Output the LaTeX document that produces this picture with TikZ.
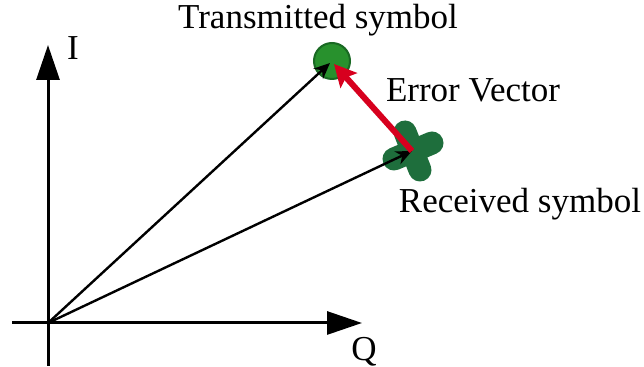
\documentclass[tikz,border=0pt]{standalone}
\usepackage{fontspec}
\setmainfont{Liberation Serif}
\usetikzlibrary{arrows.meta}

\definecolor{txgreen}{RGB}{40,145,45}
\definecolor{txedge}{RGB}{25,105,35}
\definecolor{rxgreen}{RGB}{30,110,60}
\definecolor{errred}{RGB}{215,0,30}

\tikzset{
  axis/.style={line width=1.5pt,-{Triangle[length=17.5pt,width=11.5pt]}},
  vec/.style={line width=1.2pt,-{Stealth[length=8pt,width=7pt]}},
  errvec/.style={errred,line width=3pt,-{Stealth[length=11pt,width=11pt,inset=2pt]}},
  lbl/.style={inner sep=0pt,font=\fontsize{17.5}{20}\selectfont},
  lobe/.style={rxgreen,line width=11.5pt,line cap=round}
}

\begin{document}
\begin{tikzpicture}[x=0.5pt,y=0.5pt,yscale=-1,xscale=1]
\useasboundingbox (0,0) rectangle (644,367);

% axes
\coordinate (O) at (48,323);
\coordinate (Ibot) at (48,366);
\coordinate (Itop) at (48,45);
\coordinate (Qleft) at (12,323);
\coordinate (Qend) at (362,323);
\draw [axis] (Ibot) -- (Itop);
\draw [axis] (Qleft) -- (Qend);

% Transmitted symbol
\node (tx) [circle,fill=txgreen,draw=txedge,line width=1pt,minimum size=18pt,inner sep=0pt] at (332,61) {};

% Received symbol
\coordinate (rx) at (412,151);
\draw [lobe] ([shift={(-7,-19)}]rx) -- ([shift={(8,19)}]rx);
\draw [lobe] ([shift={(-18,8)}]rx) -- ([shift={(20,-8)}]rx);

% vectors
\draw [vec] (O) -- ([shift={(-2,2)}]tx.center);
\draw [vec] (O) -- (rx);
\draw [errvec] (rx) -- ([shift={(2,3)}]tx.center);

% Text Node
\node (ilbl) [lbl] at (73,48) {I};
% Text Node
\node (qlbl) [lbl] at (364,352) {Q};
% Text Node
\node (txlbl) [lbl] at (318,20) {Transmitted symbol};
% Text Node
\node (errlbl) [lbl] at (473,90) {Error Vector};
% Text Node
\node (rxlbl) [lbl] at (520,204) {Received symbol};

\end{tikzpicture}
\end{document}
